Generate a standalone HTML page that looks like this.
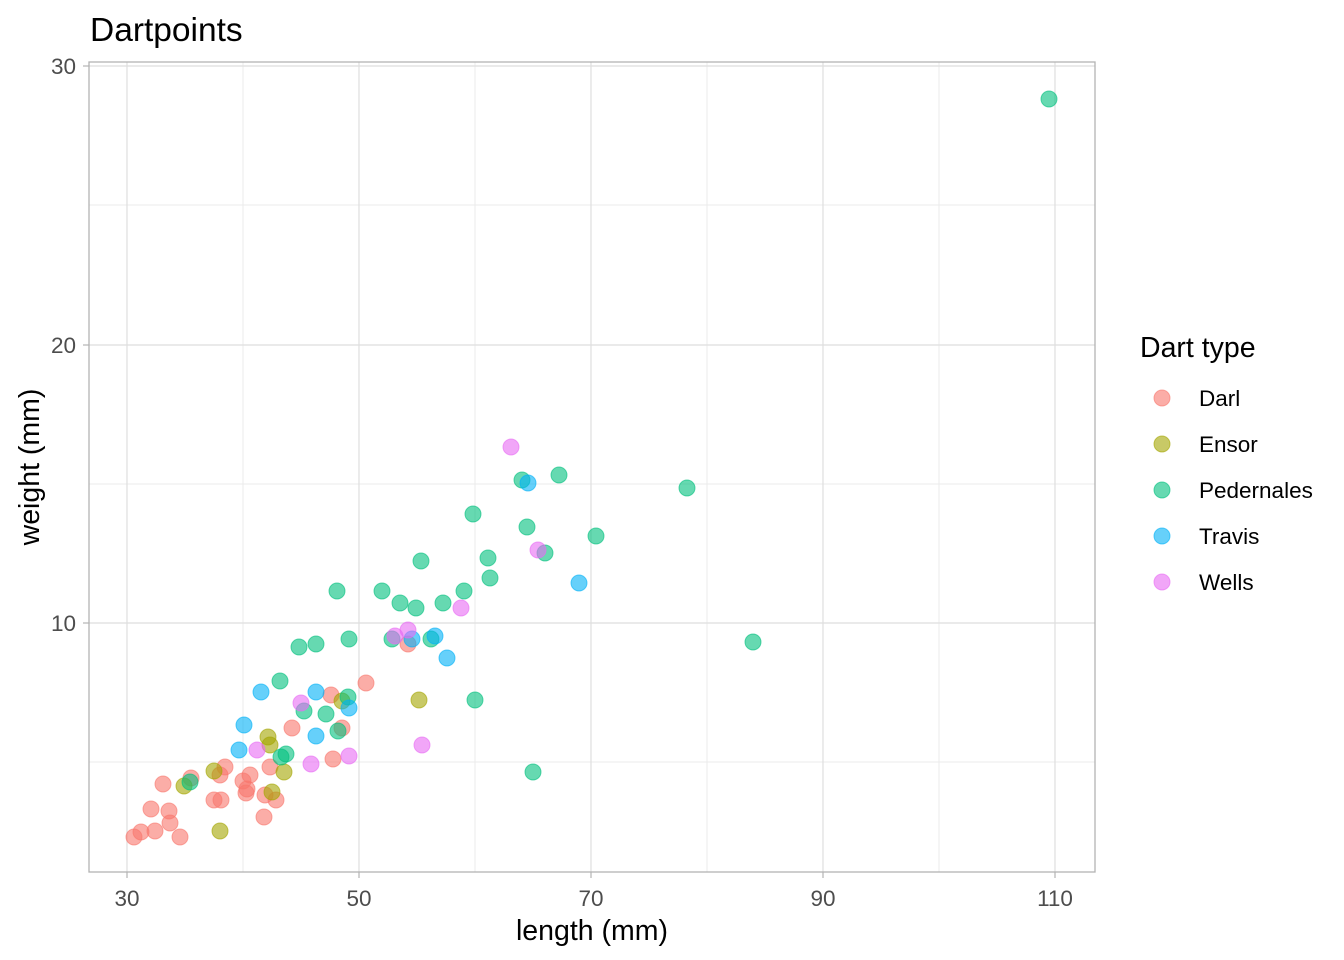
<!DOCTYPE html>
<html><head><meta charset="utf-8"><style>
html,body{margin:0;padding:0;background:#fff;}
svg{display:block;font-family:"Liberation Sans",Arial,sans-serif;}
</style></head><body>
<svg width="1344" height="960" viewBox="0 0 1344 960" xmlns="http://www.w3.org/2000/svg">
<rect width="1344" height="960" fill="#fff"/>
<text x="90" y="41" font-size="33.5" fill="#000">Dartpoints</text>
<g stroke="#ebebeb" stroke-width="1">
<line x1="243" y1="62" x2="243" y2="872"/><line x1="475" y1="62" x2="475" y2="872"/><line x1="707" y1="62" x2="707" y2="872"/><line x1="939" y1="62" x2="939" y2="872"/>
<line x1="89" y1="205" x2="1095" y2="205"/><line x1="89" y1="484" x2="1095" y2="484"/><line x1="89" y1="762" x2="1095" y2="762"/>
</g>
<g stroke="#dedede" stroke-width="1.2">
<line x1="127" y1="62" x2="127" y2="872"/><line x1="359" y1="62" x2="359" y2="872"/><line x1="591" y1="62" x2="591" y2="872"/><line x1="823" y1="62" x2="823" y2="872"/><line x1="1055" y1="62" x2="1055" y2="872"/>
<line x1="89" y1="66" x2="1095" y2="66"/><line x1="89" y1="345" x2="1095" y2="345"/><line x1="89" y1="623" x2="1095" y2="623"/>
</g>
<rect x="89" y="62" width="1006" height="810" fill="none" stroke="#b3b3b3" stroke-width="1.3"/>
<g stroke="#b3b3b3" stroke-width="1.2">
<line x1="83" y1="66" x2="89" y2="66"/><line x1="83" y1="345" x2="89" y2="345"/><line x1="83" y1="623" x2="89" y2="623"/>
<line x1="127" y1="872" x2="127" y2="878"/><line x1="359" y1="872" x2="359" y2="878"/><line x1="591" y1="872" x2="591" y2="878"/><line x1="823" y1="872" x2="823" y2="878"/><line x1="1055" y1="872" x2="1055" y2="878"/>
</g>
<g font-size="22.5" fill="#4d4d4d" text-anchor="end">
<text x="76" y="74">30</text><text x="76" y="353">20</text><text x="76" y="631">10</text>
</g>
<g font-size="22.5" fill="#4d4d4d" text-anchor="middle">
<text x="127" y="906">30</text><text x="359" y="906">50</text><text x="591" y="906">70</text><text x="823" y="906">90</text><text x="1055" y="906">110</text>
</g>
<text x="592" y="940" font-size="28.5" text-anchor="middle">length (mm)</text>
<text transform="translate(39,467) rotate(-90)" font-size="28.5" text-anchor="middle">weight (mm)</text>
<g fill-opacity="0.6" stroke-opacity="0.6" stroke-width="1">
<g fill="#F8766D" stroke="#F8766D">
<circle cx="134" cy="837" r="8"/><circle cx="141" cy="832" r="8"/><circle cx="155" cy="831" r="8"/><circle cx="151" cy="809" r="8"/><circle cx="169" cy="811" r="8"/><circle cx="170" cy="823" r="8"/><circle cx="180" cy="837" r="8"/><circle cx="163" cy="784" r="8"/><circle cx="191" cy="778" r="8"/><circle cx="214" cy="800" r="8"/><circle cx="221" cy="800" r="8"/><circle cx="220" cy="775" r="8"/><circle cx="225" cy="767" r="8"/><circle cx="243" cy="781" r="8"/><circle cx="250" cy="775" r="8"/><circle cx="247" cy="789" r="8"/><circle cx="246" cy="793" r="8"/><circle cx="265" cy="795" r="8"/><circle cx="264" cy="817" r="8"/><circle cx="276" cy="800" r="8"/><circle cx="270" cy="767" r="8"/><circle cx="292" cy="728" r="8"/><circle cx="331" cy="695" r="8"/><circle cx="342" cy="728" r="8"/><circle cx="333" cy="759" r="8"/><circle cx="366" cy="683" r="8"/><circle cx="408" cy="644" r="8"/>
</g>
<g fill="#A3A500" stroke="#A3A500">
<circle cx="184" cy="786" r="8"/><circle cx="214" cy="771" r="8"/><circle cx="220" cy="831" r="8"/><circle cx="268" cy="737" r="8"/><circle cx="270" cy="745" r="8"/><circle cx="272" cy="792" r="8"/><circle cx="284" cy="772" r="8"/><circle cx="419" cy="700" r="8"/><circle cx="342" cy="701" r="8"/>
</g>
<g fill="#00BF7D" stroke="#00BF7D">
<circle cx="190" cy="782" r="8"/><circle cx="280" cy="681" r="8"/><circle cx="299" cy="647" r="8"/><circle cx="304" cy="711" r="8"/><circle cx="326" cy="714" r="8"/><circle cx="316" cy="644" r="8"/><circle cx="286" cy="754" r="8"/><circle cx="281" cy="757" r="8"/><circle cx="337" cy="591" r="8"/><circle cx="349" cy="639" r="8"/><circle cx="348" cy="697" r="8"/><circle cx="338" cy="731" r="8"/><circle cx="382" cy="591" r="8"/><circle cx="400" cy="603" r="8"/><circle cx="392" cy="639" r="8"/><circle cx="416" cy="608" r="8"/><circle cx="421" cy="561" r="8"/><circle cx="443" cy="603" r="8"/><circle cx="431" cy="639" r="8"/><circle cx="464" cy="591" r="8"/><circle cx="473" cy="514" r="8"/><circle cx="475" cy="700" r="8"/><circle cx="488" cy="558" r="8"/><circle cx="490" cy="578" r="8"/><circle cx="522" cy="480" r="8"/><circle cx="527" cy="527" r="8"/><circle cx="545" cy="553" r="8"/><circle cx="559" cy="475" r="8"/><circle cx="596" cy="536" r="8"/><circle cx="533" cy="772" r="8"/><circle cx="687" cy="488" r="8"/><circle cx="753" cy="642" r="8"/><circle cx="1049" cy="99" r="8"/>
</g>
<g fill="#00B0F6" stroke="#00B0F6">
<circle cx="244" cy="725" r="8"/><circle cx="239" cy="750" r="8"/><circle cx="261" cy="692" r="8"/><circle cx="316" cy="692" r="8"/><circle cx="316" cy="736" r="8"/><circle cx="349" cy="708" r="8"/><circle cx="412" cy="639" r="8"/><circle cx="435" cy="636" r="8"/><circle cx="447" cy="658" r="8"/><circle cx="528" cy="483" r="8"/><circle cx="579" cy="583" r="8"/>
</g>
<g fill="#E76BF3" stroke="#E76BF3">
<circle cx="257" cy="750" r="8"/><circle cx="301" cy="703" r="8"/><circle cx="311" cy="764" r="8"/><circle cx="349" cy="756" r="8"/><circle cx="395" cy="636" r="8"/><circle cx="408" cy="630" r="8"/><circle cx="422" cy="745" r="8"/><circle cx="461" cy="608" r="8"/><circle cx="511" cy="447" r="8"/><circle cx="538" cy="550" r="8"/>
</g>
<circle cx="1162" cy="398" r="8" fill="#F8766D" stroke="#F8766D"/>
<circle cx="1162" cy="444" r="8" fill="#A3A500" stroke="#A3A500"/>
<circle cx="1162" cy="490" r="8" fill="#00BF7D" stroke="#00BF7D"/>
<circle cx="1162" cy="536" r="8" fill="#00B0F6" stroke="#00B0F6"/>
<circle cx="1162" cy="582" r="8" fill="#E76BF3" stroke="#E76BF3"/>
</g>
<text x="1140" y="357" font-size="28.5">Dart type</text>
<g font-size="22.5" fill="#000">
<text x="1199" y="406">Darl</text><text x="1199" y="452">Ensor</text><text x="1199" y="498">Pedernales</text><text x="1199" y="544">Travis</text><text x="1199" y="590">Wells</text>
</g>
</svg>
</body></html>
